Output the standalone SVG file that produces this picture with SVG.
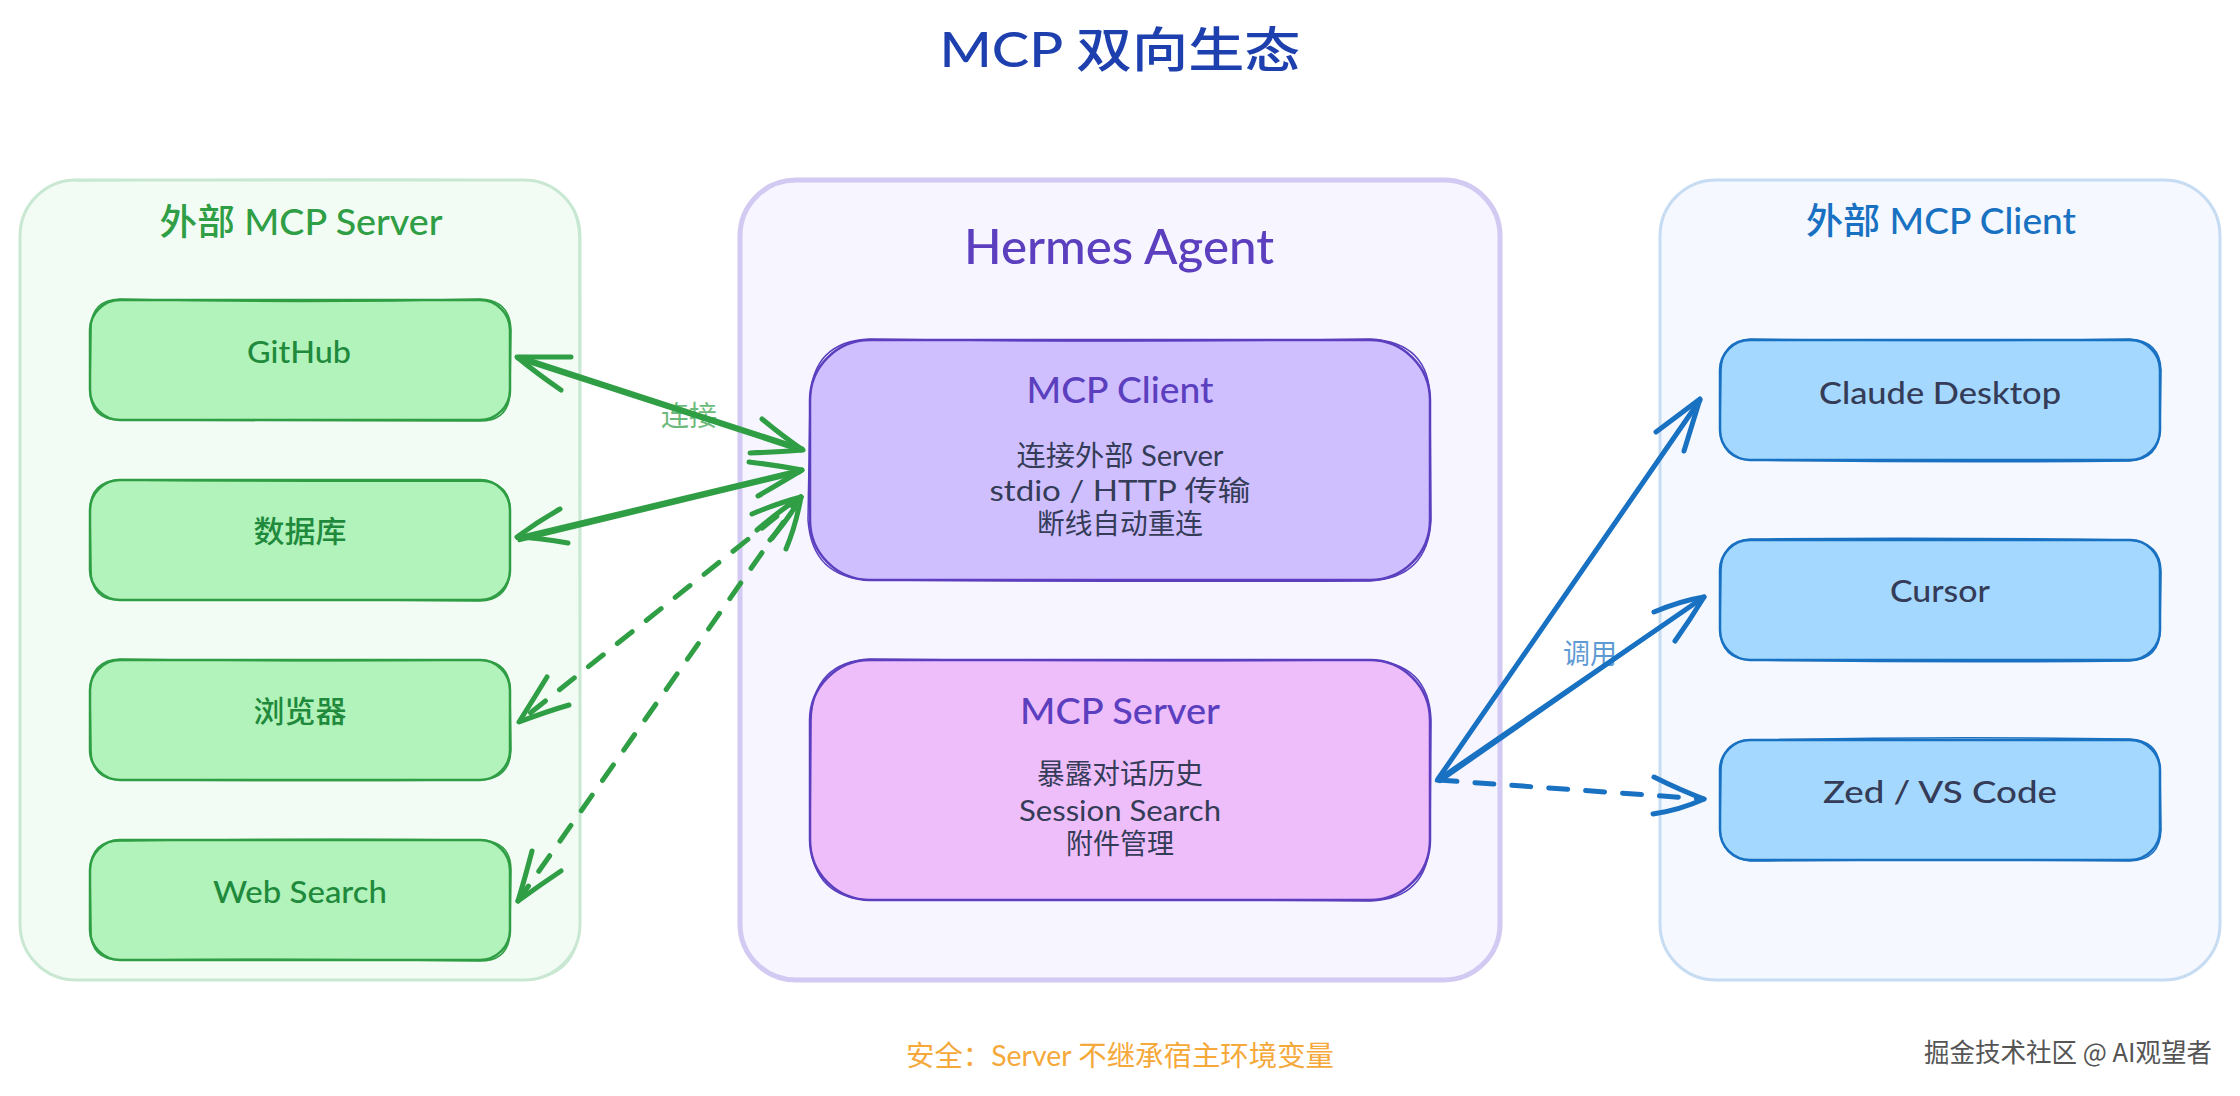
<svg xmlns="http://www.w3.org/2000/svg" width="2240" height="1096" viewBox="0 0 2240 1096">
<style>
text{font-family:"Lato","Noto Sans CJK SC",sans-serif;text-anchor:middle}
.c{font-size:28px;fill:#343c58}
.g{fill:#b2f2bb;stroke:#2f9e44;stroke-width:2.5}
.gb{fill:none;stroke:#2f9e44;stroke-width:1.5}
.b{fill:#a5d8ff;stroke:#1971c2;stroke-width:2.5}
.bb{fill:none;stroke:#1971c2;stroke-width:1.5}
.p{stroke:#5b3fbf;stroke-width:2.5}
.pb{fill:none;stroke:#5b3fbf;stroke-width:1.5}
.gt{font-size:30px;fill:#1f8a3c;font-weight:500}
.bt{font-size:30px;fill:#343c58;font-weight:500}
.ga{fill:none;stroke:#2f9e44;stroke-width:5;stroke-linecap:round;stroke-linejoin:round}
.ba{fill:none;stroke:#1971c2;stroke-width:5;stroke-linecap:round;stroke-linejoin:round}
.d{stroke-dasharray:19 18}
.thin{stroke-width:2.5}
</style>
<rect width="2240" height="1096" fill="#ffffff"/>
<text id="title" x="1120" y="67" font-size="48" font-weight="500" fill="#1e40af" textLength="361" lengthAdjust="spacingAndGlyphs">MCP 双向生态</text>

<g id="group-servers">
<rect x="20" y="180" width="560" height="800" rx="56" fill="#f2fcf4" stroke="#c9e8d2" stroke-width="3"/>
<path fill="none" stroke="#c9e8d2" stroke-width="1.5" d="M76 181Q300 178 524 180Q578 184 579 240L580 924Q578 978 524 980"/>
<text x="301" y="235" font-size="36" fill="#2f9e44" font-weight="500" textLength="283" lengthAdjust="spacingAndGlyphs">外部 MCP Server</text>
</g>
<g id="group-hermes">
<rect x="740" y="180" width="760" height="800" rx="56" fill="#f7f5ff" stroke="#d2caf2" stroke-width="5"/>
<text x="1119" y="264" font-size="48" fill="#5b3fbf" font-weight="500" textLength="310" lengthAdjust="spacingAndGlyphs">Hermes Agent</text>
</g>
<g id="group-clients">
<rect x="1660" y="180" width="560" height="800" rx="56" fill="#f5f8fe" stroke="#c5dcf2" stroke-width="3"/>
<text x="1941" y="234" font-size="36" fill="#1971c2" font-weight="500" textLength="270" lengthAdjust="spacingAndGlyphs">外部 MCP Client</text>
</g>

<g id="node-github">
<rect class="g" x="90" y="300" width="420" height="120" rx="30"/>
<path class="gb" d="M120 299Q300 304 480 299Q510 300 511 330L510 390Q510 421 480 421Q300 420 120 420Q90 420 90 390L91 330Q90 300 120 299Z"/>
<text class="gt" x="299" y="363" textLength="104" lengthAdjust="spacingAndGlyphs">GitHub</text>
</g>
<g id="node-database">
<rect class="g" x="90" y="480" width="420" height="120" rx="30"/>
<path class="gb" d="M120 480Q300 482 480 481Q511 482 510 512L510 570Q509 600 480 601Q300 599 120 600Q91 601 91 570L90 510Q90 481 120 480Z"/>
<text class="gt" x="300" y="542" textLength="93" lengthAdjust="spacingAndGlyphs">数据库</text>
</g>
<g id="node-browser">
<rect class="g" x="90" y="660" width="420" height="120" rx="30"/>
<path class="gb" d="M120 659Q300 662 480 660Q510 661 510 690L511 750Q510 779 480 780Q300 781 120 780Q91 779 91 750L90 690Q91 660 120 659Z"/>
<text class="gt" x="300" y="722" textLength="93" lengthAdjust="spacingAndGlyphs">浏览器</text>
</g>
<g id="node-websearch">
<rect class="g" x="90" y="840" width="420" height="120" rx="30"/>
<path class="gb" d="M120 841Q300 838 480 840Q511 841 511 870L510 930Q510 961 480 961Q300 958 120 960Q90 960 91 930L90 870Q91 840 120 841Z"/>
<text class="gt" x="300" y="903" textLength="174" lengthAdjust="spacingAndGlyphs">Web Search</text>
</g>

<g id="node-mcp-client">
<rect class="p" x="810" y="340" width="620" height="240" rx="60" fill="#d0bfff"/>
<path class="pb" d="M870 339Q1120 343 1370 339Q1430 342 1430 400L1431 520Q1428 578 1370 581Q1120 582 870 580Q812 578 808 520L810 400Q812 341 870 339Z"/>
<text x="1120" y="403" font-size="36" fill="#5b3fbf" font-weight="500" textLength="187" lengthAdjust="spacingAndGlyphs">MCP Client</text>
<text class="c" x="1120" y="466" textLength="207" lengthAdjust="spacingAndGlyphs">连接外部 Server</text>
<text class="c" x="1120" y="501" textLength="261" lengthAdjust="spacingAndGlyphs">stdio / HTTP 传输</text>
<text class="c" x="1120" y="534" textLength="166" lengthAdjust="spacingAndGlyphs">断线自动重连</text>
</g>
<g id="node-mcp-server">
<rect class="p" x="810" y="660" width="620" height="240" rx="60" fill="#eebefa"/>
<path class="pb" d="M870 659Q1120 662 1370 660Q1429 663 1431 720L1430 840Q1428 899 1370 901Q1120 899 870 900Q813 898 810 840L811 720Q813 662 870 659Z"/>
<text x="1120" y="724" font-size="36" fill="#5b3fbf" font-weight="500" textLength="200" lengthAdjust="spacingAndGlyphs">MCP Server</text>
<text class="c" x="1120" y="784" textLength="166" lengthAdjust="spacingAndGlyphs">暴露对话历史</text>
<text class="c" x="1120" y="821" textLength="202" lengthAdjust="spacingAndGlyphs">Session Search</text>
<text class="c" x="1120" y="854" textLength="108" lengthAdjust="spacingAndGlyphs">附件管理</text>
</g>

<g id="node-claude">
<rect class="b" x="1720" y="340" width="440" height="120" rx="30"/>
<path class="bb" d="M1750 339Q1940 342 2130 339Q2160 341 2161 370L2160 430Q2159 459 2130 461Q1940 463 1750 460Q1722 459 1720 430L1721 370Q1722 341 1750 339Z"/>
<text class="bt" x="1940" y="404" textLength="242" lengthAdjust="spacingAndGlyphs">Claude Desktop</text>
</g>
<g id="node-cursor">
<rect class="b" x="1720" y="540" width="440" height="120" rx="30"/>
<path class="bb" d="M1750 539Q1940 537 2130 540Q2161 543 2161 572L2160 630Q2160 659 2130 661Q1940 663 1750 660Q1721 659 1720 630L1721 570Q1722 541 1750 539Z"/>
<text class="bt" x="1940" y="602" textLength="100" lengthAdjust="spacingAndGlyphs">Cursor</text>
</g>
<g id="node-zed">
<rect class="b" x="1720" y="740" width="440" height="120" rx="30"/>
<path class="bb" d="M1750 740Q1940 736 2130 739Q2160 741 2160 770L2161 830Q2160 860 2130 861Q1940 859 1750 861Q1722 858 1720 830L1721 770Q1722 741 1750 740Z"/>
<text class="bt" x="1940" y="803" textLength="234" lengthAdjust="spacingAndGlyphs">Zed / VS Code</text>
</g>

<g id="connectors">
<text x="689" y="426" font-size="28" fill="#2f9e44" opacity="0.7" textLength="56" lengthAdjust="spacingAndGlyphs">连接</text>
<text x="1590" y="664" font-size="28" fill="#1971c2" opacity="0.7" textLength="54" lengthAdjust="spacingAndGlyphs">调用</text>

<g id="edge-github">
<path class="ga" d="M518 358L801 450"/>
<path class="ga thin" d="M520 356L803 448"/>
<path class="ga" d="M571 357Q540 357 517 357Q535 372 561 390"/>
<path class="ga" d="M762 419Q785 438 803 450Q775 452 750 453"/>
</g>
<g id="edge-database">
<path class="ga" d="M518 538L802 470"/>
<path class="ga thin" d="M519 541L800 473"/>
<path class="ga" d="M560 509Q537 522 517 537Q540 538 568 543"/>
<path class="ga" d="M749 462Q775 465 802 470Q782 482 758 496"/>
</g>
<g id="edge-browser">
<path class="ga d" d="M801 497L519 722" style="stroke-dashoffset:6"/>
<path class="ga" d="M547 677Q533 700 519 722Q545 712 569 705"/>
<path class="ga" d="M752 514Q778 503 801 497Q780 510 757 530"/>
</g>
<g id="edge-websearch">
<path class="ga d" d="M801 497L518 901" style="stroke-dashoffset:6"/>
<path class="ga" d="M532 851Q525 878 518 901Q540 885 561 871"/>
<path class="ga" d="M770 540Q788 520 801 497Q796 525 786 549"/>
</g>
<g id="edge-claude">
<path class="ba" d="M1438 779L1700 400"/>
<path class="ba thin" d="M1436 781L1698 402"/>
<path class="ba" d="M1656 432Q1680 414 1700 399Q1692 425 1684 451"/>
</g>
<g id="edge-cursor">
<path class="ba" d="M1438 780L1704 597"/>
<path class="ba thin" d="M1440 782L1702 599"/>
<path class="ba" d="M1654 612Q1680 601 1704 597Q1690 620 1675 641"/>
</g>
<g id="edge-zed">
<path class="ba d" d="M1438 780L1704 799"/>
<path class="ba" d="M1654 777Q1680 790 1704 799Q1680 810 1653 814"/>
</g>
</g>

<text id="note" x="1120" y="1066" font-size="28" fill="#f5a93a" textLength="428" lengthAdjust="spacingAndGlyphs">安全：Server 不继承宿主环境变量</text>
<text id="watermark" x="2068" y="1062" font-size="26" fill="#555555" style="font-family:'Noto Sans CJK SC',sans-serif" textLength="288" lengthAdjust="spacingAndGlyphs">掘金技术社区 @ AI观望者</text>
</svg>
